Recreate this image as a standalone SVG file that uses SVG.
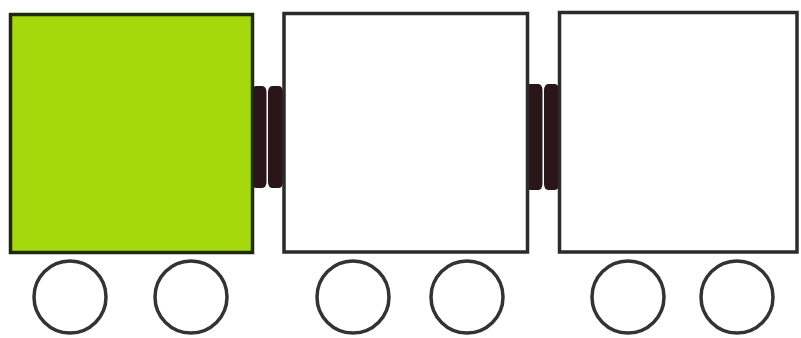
<svg xmlns="http://www.w3.org/2000/svg" width="801" height="338" viewBox="0 0 801 338">
<style>
.box{stroke:#2b2b2b;stroke-width:3.5;fill:#ffffff}
.green{fill:#a6d90c;stroke:#1f2a08}
.wheel{fill:#ffffff;stroke:#333333;stroke-width:3.5}
.coupler{fill:#2a1519}
</style>
<rect width="801" height="338" fill="#ffffff"/>
<g id="connectors">
<g id="coupler1">
<rect class="coupler" x="252" y="86" width="14.5" height="102" rx="4" ry="6"/>
<rect class="coupler" x="268" y="86" width="15" height="102" rx="4" ry="6"/>
</g>
<g id="coupler2">
<rect class="coupler" x="526" y="84" width="16.5" height="106" rx="4" ry="6"/>
<rect class="coupler" x="544" y="84" width="15" height="106" rx="4" ry="6"/>
</g>
</g>
<g id="car1">
<rect class="box green" x="10.5" y="14.5" width="242" height="238"/>
<circle class="wheel" cx="70" cy="297" r="36"/>
<circle class="wheel" cx="191" cy="297" r="36"/>
</g>
<g id="car2">
<rect class="box" x="284" y="13.5" width="243.5" height="238.5"/>
<circle class="wheel" cx="353" cy="297" r="36"/>
<circle class="wheel" cx="467" cy="297" r="36"/>
</g>
<g id="car3">
<rect class="box" x="559.5" y="12.5" width="237.5" height="239.5"/>
<circle class="wheel" cx="628" cy="297" r="36"/>
<circle class="wheel" cx="737" cy="297" r="36"/>
</g>
</svg>
